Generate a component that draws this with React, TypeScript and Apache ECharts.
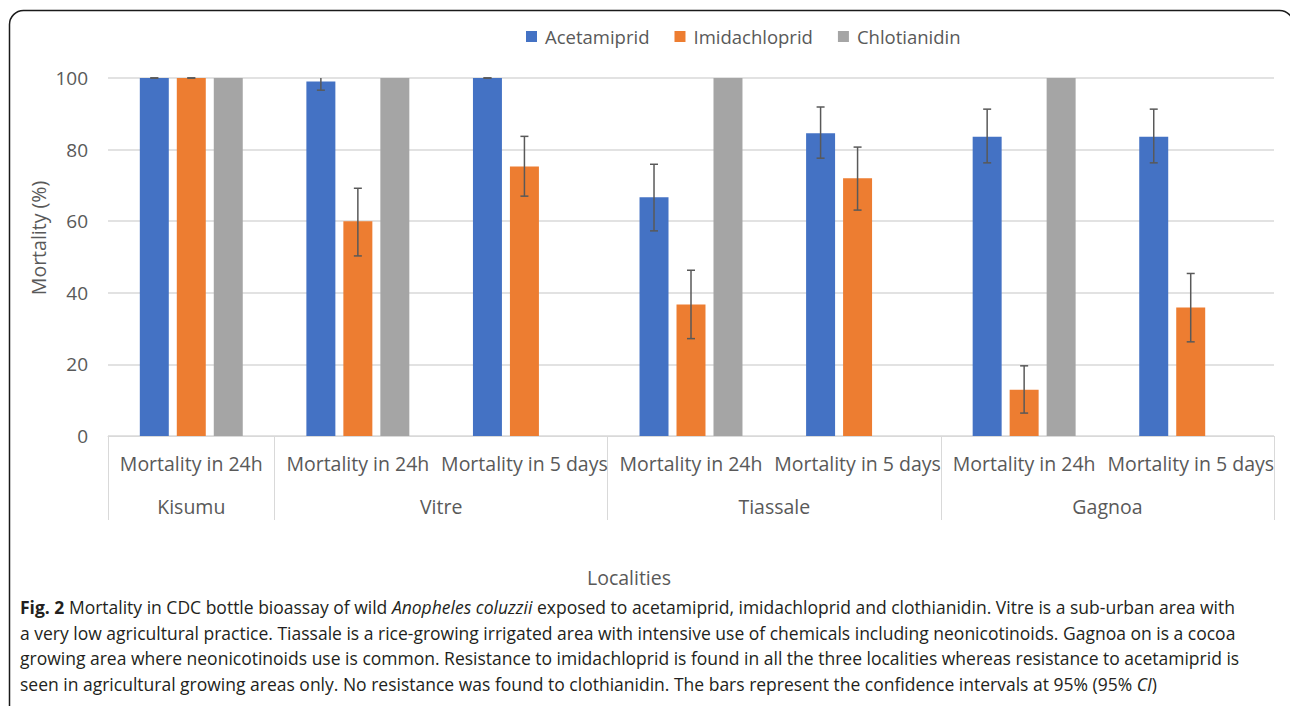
import React, { useEffect, useRef } from "react";
import * as echarts from "echarts";

// ---- Data ----
const seriesNames = ["Acetamiprid", "Imidachloprid", "Chlotianidin"];
const seriesColors = ["#4472c4", "#ed7d31", "#a5a5a5"];
const periods = [
  "Mortality in 24h",
  "Mortality in 24h",
  "Mortality in 5 days",
  "Mortality in 24h",
  "Mortality in 5 days",
  "Mortality in 24h",
  "Mortality in 5 days",
];
const localities = ["Kisumu", "Vitre", "Tiassale", "Gagnoa"];
const localitySpans = [1, 2, 2, 2];

const acetamiprid = [100, 99, 100, 66.7, 84.6, 83.6, 83.6];
const imidachloprid = [100, 60, 75.3, 36.7, 72, 12.9, 35.9];
const chlotianidin = [100, 100, null, 100, null, 100, null];

const acetamipridLow = [100, 96.6, 100, 57.3, 77.6, 76.3, 76.3];
const acetamipridHigh = [100, 101.4, 100, 75.9, 91.9, 91.3, 91.3];
const imidachlopridLow = [100, 50.3, 67.0, 27.2, 63.1, 6.4, 26.3];
const imidachlopridHigh = [100, 69.2, 83.7, 46.3, 80.7, 19.6, 45.4];

const yTicks = { min: 0, max: 100, interval: 20 };

const captionLines = [
  "{b|Fig. 2} Mortality in CDC bottle bioassay of wild {i|Anopheles coluzzii} exposed to acetamiprid, imidachloprid and clothianidin. Vitre is a sub-urban area with",
  "a very low agricultural practice. Tiassale is a rice-growing irrigated area with intensive use of chemicals including neonicotinoids. Gagnoa on is a cocoa",
  "growing area where neonicotinoids use is common. Resistance to imidachloprid is found in all the three localities whereas resistance to acetamiprid is",
  "seen in agricultural growing areas only. No resistance was found to clothianidin. The bars represent the confidence intervals at 95% (95% {i|CI})",
];

const FONT = "Open Sans";
const LABEL = "#595959";
const BAR_W = 0.174;
const BAR_GAP = 0.276;
const CAP_FS = 17.5;

export default function App() {
  const ref = useRef<HTMLDivElement>(null);

  useEffect(() => {
    if (!ref.current) return;
    const chart = echarts.init(ref.current, null, { renderer: "svg" });

    const groupCenters: Record<string, string> = {};
    const tickIdx: number[] = [];
    let acc = 0;
    localities.forEach((name, k) => {
      tickIdx.push(acc);
      groupCenters[String(acc + localitySpans[k] / 2)] = name;
      acc += localitySpans[k];
    });

    const makeErr = (low: number[], high: number[]) =>
      low.map((l, i) => [i, l, high[i]]);

    const errRender = (slot: number) => (params: any, api: any) => {
      const i = api.value(0);
      const low = api.value(1);
      const high = api.value(2);
      const band = api.size([1, 0])[0];
      const bw = band * BAR_W;
      const step = bw * (1 + BAR_GAP);
      const x = api.coord([i, 0])[0] + (slot - 1) * step;
      const yl = api.coord([i, low])[1];
      const yh = api.coord([i, Math.min(high, yTicks.max)])[1];
      const cap = 4;
      const st = { stroke: "#595959", lineWidth: 1.5 };
      const children: any[] = [
        { type: "line", shape: { x1: x, y1: yl, x2: x, y2: yh }, style: st },
        { type: "line", shape: { x1: x - cap, y1: yl, x2: x + cap, y2: yl }, style: st },
      ];
      if (high <= yTicks.max) {
        children.push({ type: "line", shape: { x1: x - cap, y1: yh, x2: x + cap, y2: yh }, style: st });
      }
      return { type: "group", children };
    };

    const barData = [acetamiprid, imidachloprid, chlotianidin];

    const option: any = {
      animation: false,
      backgroundColor: "#ffffff",
      textStyle: { fontFamily: FONT },
      legend: {
        data: seriesNames,
        left: 521,
        top: 22,
        itemWidth: 11,
        itemHeight: 11,
        itemGap: 25,
        icon: "rect",
        textStyle: { color: LABEL, fontSize: 18.5, fontFamily: FONT, padding: [0, 0, 0, 3] },
      },
      grid: { left: 108, right: 16, top: 78, bottom: 270, containLabel: false },
      xAxis: [
        {
          type: "category",
          data: periods,
          axisLine: { lineStyle: { color: "#d9d9d9", width: 1 } },
          axisTick: {
            show: true,
            length: 84,
            interval: (index: number) => tickIdx.includes(index),
            lineStyle: { color: "#d9d9d9", width: 1 },
          },
          axisLabel: { interval: 0, color: LABEL, fontSize: 19.5, margin: 17, fontFamily: FONT },
        },
        {
          type: "value",
          position: "bottom",
          min: 0,
          max: acc,
          interval: 0.5,
          axisLine: { show: false },
          axisTick: { show: false },
          splitLine: { show: false },
          axisLabel: {
            color: LABEL,
            fontSize: 19.5,
            margin: 60,
            fontFamily: FONT,
            formatter: (v: number) => groupCenters[String(v)] || "",
          },
        },
      ],
      yAxis: {
        type: "value",
        min: yTicks.min,
        max: yTicks.max,
        interval: yTicks.interval,
        axisLine: { show: false },
        axisTick: { show: false },
        splitLine: { lineStyle: { color: "#d9d9d9", width: 1.5 } },
        axisLabel: { color: LABEL, fontSize: 19, margin: 20, fontFamily: FONT },
      },
      series: [
        ...barData.map((d, k) => ({
          name: seriesNames[k],
          type: "bar",
          data: d,
          barWidth: BAR_W * 100 + "%",
          barGap: BAR_GAP * 100 + "%",
          itemStyle: { color: seriesColors[k] },
        })),
        {
          type: "custom",
          name: "errA",
          renderItem: errRender(0),
          data: makeErr(acetamipridLow, acetamipridHigh),
          encode: { x: 0, y: [1, 2] },
          z: 5,
        },
        {
          type: "custom",
          name: "errI",
          renderItem: errRender(1),
          data: makeErr(imidachlopridLow, imidachlopridHigh),
          encode: { x: 0, y: [1, 2] },
          z: 5,
        },
      ],
      graphic: [
        {
          type: "rect",
          shape: { x: 9.5, y: 10.5, width: 1284, height: 720, r: [14, 14, 0, 0] },
          style: { fill: "none", stroke: "#1a1a1a", lineWidth: 1.5 },
          silent: true,
        },
        {
          type: "text",
          x: 38,
          y: 238,
          rotation: Math.PI / 2,
          style: {
            text: "Mortality (%)",
            fill: LABEL,
            fontSize: 19.5,
            fontFamily: FONT,
            align: "center",
            verticalAlign: "middle",
          },
        },
        {
          type: "text",
          x: 629,
          y: 577,
          style: {
            text: "Localities",
            fill: LABEL,
            fontSize: 19.5,
            fontFamily: FONT,
            align: "center",
            verticalAlign: "middle",
          },
        },
        ...captionLines.map((line, k) => ({
          type: "text",
          x: 20,
          y: 607 + k * 25.7,
          style: {
            text: line,
            fill: "#231f20",
            fontSize: CAP_FS,
            fontFamily: FONT,
            verticalAlign: "middle",
            rich: {
              b: { fontWeight: "bold", fontSize: CAP_FS, fontFamily: FONT, fill: "#231f20" },
              i: { fontStyle: "italic", fontSize: CAP_FS, fontFamily: FONT, fill: "#231f20" },
            },
          },
        })),
      ],
    };

    chart.setOption(option);
    return () => chart.dispose();
  }, []);

  return (
    <div
      ref={ref}
      style={{ position: "fixed", left: 0, top: 0, width: 1290, height: 706, background: "#fff" }}
    />
  );
}
